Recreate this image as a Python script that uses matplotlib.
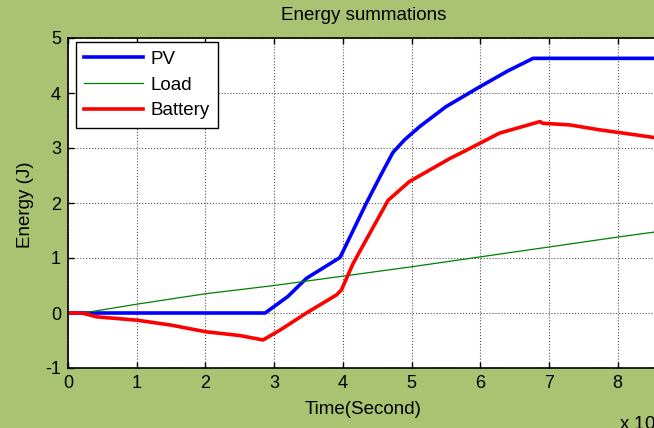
import matplotlib.pyplot as plt
import numpy as np

plt.rcParams['font.family'] = ['Liberation Sans', 'DejaVu Sans']
plt.rcParams['axes.unicode_minus'] = False

# time in units of 1e4 s
pv_t = [0, 2.87, 3.2, 3.47, 3.96, 4.15, 4.34, 4.55, 4.73, 4.9, 5.12, 5.5, 5.99, 6.4, 6.77, 8.7]
pv_e = [0, 0, 0.3, 0.63, 1.01, 1.5, 1.99, 2.5, 2.92, 3.15, 3.39, 3.75, 4.11, 4.4, 4.63, 4.63]

bat_t = [0, 0.2, 0.42, 1.0, 1.5, 2.0, 2.5, 2.84, 3.1, 3.47, 3.91, 3.98, 4.15, 4.34, 4.66,
         4.97, 5.56, 5.8, 6.28, 6.87, 6.91, 7.3, 7.74, 8.2, 8.7]
bat_e = [0, 0, -0.07, -0.13, -0.22, -0.34, -0.41, -0.49, -0.3, 0.0, 0.33, 0.42, 0.9, 1.33, 2.05,
         2.39, 2.81, 2.96, 3.27, 3.48, 3.45, 3.42, 3.33, 3.25, 3.16]

load_t = [0, 0.22, 1.0, 2.0, 3.0, 4.0, 5.0, 6.0, 7.0, 8.0, 8.7]
load_e = [0, 0, 0.16, 0.35, 0.5, 0.67, 0.84, 1.02, 1.2, 1.38, 1.5]

fig = plt.figure(figsize=(6.54, 4.28), dpi=100)
fig.patch.set_facecolor('#aac373')
W, H = 654, 428
ax = fig.add_axes([68 / W, (H - 368) / H, (755 - 68) / W, (368 - 38) / H])
ax.set_facecolor('white')

ax.plot(pv_t, pv_e, color='#0000ff', lw=2.6, label='PV')
ax.plot(load_t, load_e, color='#008000', lw=0.9, label='Load')
ax.plot(bat_t, bat_e, color='#ff0000', lw=2.6, label='Battery')

ax.set_xlim(0, 10)
ax.set_ylim(-1, 5)
ax.set_xticks(range(0, 9))
ax.set_yticks(range(-1, 6))
ax.tick_params(direction='in', length=4, width=1, top=True, right=True,
               labelsize=13, colors='black', pad=5)
ax.grid(True, color='#555555', linestyle=':', linewidth=0.8)
for s in ax.spines.values():
    s.set_linewidth(1.2)

fig.text(364 / W, 1 - 16 / H, 'Energy summations', ha='center', va='center', fontsize=13.5)
fig.text(363 / W, 1 - 410 / H, 'Time(Second)', ha='center', va='center', fontsize=13.5)
fig.text(25 / W, 1 - 205 / H, 'Energy (J)', ha='center', va='center', rotation=90, fontsize=13.5)
fig.text(619 / W, 1 - 423 / H, 'x 10$^4$', ha='left', va='center', fontsize=13.5)

leg = ax.legend(loc='upper left', bbox_to_anchor=(76 / W, 1 - 42 / H),
                bbox_transform=fig.transFigure, borderaxespad=0, fancybox=False,
                framealpha=1, edgecolor='black', fontsize=13.5, handlelength=3.1,
                handletextpad=0.43, labelspacing=0.47, borderpad=0.45)
leg.get_frame().set_linewidth(1.0)

fig.savefig('out.png', dpi=100, facecolor=fig.get_facecolor())
